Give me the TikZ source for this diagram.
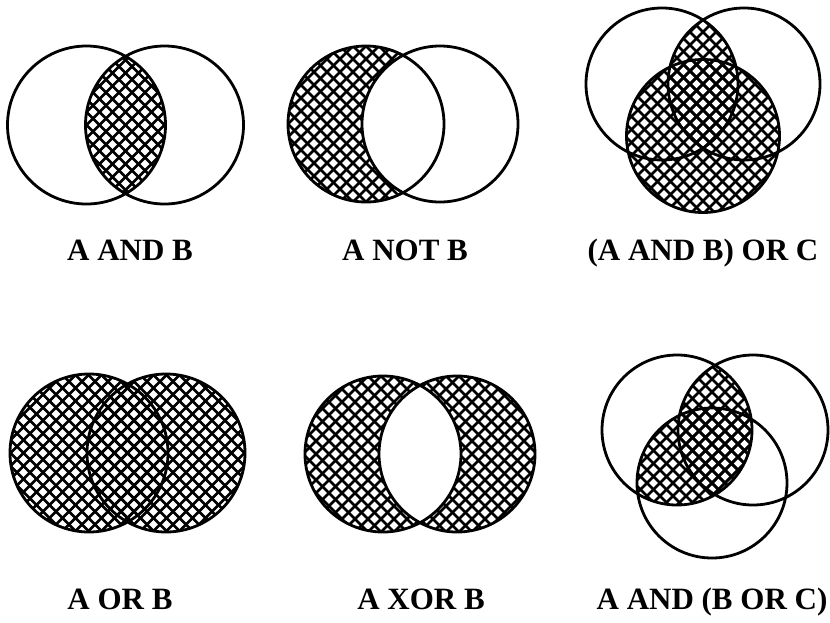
\documentclass[tikz,border=0pt]{standalone}
\usepackage{fontspec}
\setmainfont{Liberation Serif}
\tikzset{
  ring/.style={line width=2.8pt, draw=black},
  hatchline/.style={line width=2.6pt, black},
  lbl/.style={font=\fontsize{31}{36}\selectfont\bfseries, anchor=base, inner sep=0pt}
}
% hatch a square of half-size 143 around a named centre
\newcommand\hatcharound[1]{%
  \foreach \t in {-286,-273,...,286} {%
    \draw[hatchline] (#1) ++(\t-143,-143) -- ++(286,286);
    \draw[hatchline] (#1) ++(\t+143,-143) -- ++(-286,286);
  }}
\begin{document}
\begin{tikzpicture}[x=1pt,y=-1pt]
\useasboundingbox (0,0) rectangle (830,622);
\fill[white] (0,0) rectangle (830,622);

% ---------- A AND B ----------
\coordinate (a1) at (86.5,125);
\coordinate (b1) at (164.5,125);
\coordinate (m1) at (125.5,125);
\begin{scope}
  \clip (a1) circle[radius=79pt];
  \clip (b1) circle[radius=79pt];
  \hatcharound{m1}
\end{scope}
\draw[ring] (a1) circle[radius=79pt] (b1) circle[radius=79pt];
\node[lbl] (l1) at (130,260) {A AND B};

% ---------- A NOT B ----------
\coordinate (a2) at (366,124);
\coordinate (b2) at (440,124);
\begin{scope}
  \clip (a2) circle[radius=78pt];
  \hatcharound{a2}
  \fill[white] (b2) circle[radius=78pt];
\end{scope}
\draw[ring] (a2) circle[radius=78pt] (b2) circle[radius=78pt];
\node[lbl] (l2) at (405,260) {A NOT B};

% ---------- (A AND B) OR C ----------
\coordinate (a3) at (662,84);
\coordinate (b3) at (744,84);
\coordinate (c3) at (703,136);
\begin{scope}
  \clip (a3) circle[radius=76pt];
  \clip (b3) circle[radius=76pt];
  \hatcharound{c3}
\end{scope}
\begin{scope}
  \clip (c3) circle[radius=76.5pt];
  \hatcharound{c3}
\end{scope}
\draw[ring] (a3) circle[radius=76pt] (b3) circle[radius=76pt] (c3) circle[radius=76.5pt];
\node[lbl] (l3) at (703,260) {(A AND B) OR C};

% ---------- A OR B ----------
\coordinate (a4) at (89,453);
\coordinate (b4) at (166,453);
\coordinate (m4) at (127.5,453);
\begin{scope}
  \clip (a4) circle[radius=79pt];
  \hatcharound{m4}
\end{scope}
\begin{scope}
  \clip (b4) circle[radius=79pt];
  \hatcharound{m4}
\end{scope}
\draw[ring] (a4) circle[radius=79pt] (b4) circle[radius=79pt];
\node[lbl] (l4) at (120,609) {A OR B};

% ---------- A XOR B ----------
\coordinate (a5) at (383,454);
\coordinate (b5) at (457,454);
\coordinate (m5) at (420,454);
\begin{scope}
  \clip (a5) circle[radius=78pt];
  \hatcharound{m5}
\end{scope}
\begin{scope}
  \clip (b5) circle[radius=78pt];
  \hatcharound{m5}
\end{scope}
\begin{scope}
  \clip (a5) circle[radius=78pt];
  \fill[white] (b5) circle[radius=78pt];
\end{scope}
\draw[ring] (a5) circle[radius=78pt] (b5) circle[radius=78pt];
\node[lbl] (l5) at (421,609) {A XOR B};

% ---------- A AND (B OR C) ----------
\coordinate (a6) at (677,430);
\coordinate (b6) at (753,430);
\coordinate (c6) at (712,483);
\begin{scope}
  \clip (a6) circle[radius=75pt];
  \begin{scope}
    \clip (b6) circle[radius=75pt];
    \hatcharound{c6}
  \end{scope}
  \begin{scope}
    \clip (c6) circle[radius=75pt];
    \hatcharound{c6}
  \end{scope}
\end{scope}
\draw[ring] (a6) circle[radius=75pt] (b6) circle[radius=75pt] (c6) circle[radius=75pt];
\node[lbl] (l6) at (712,609) {A AND (B OR C)};
\end{tikzpicture}
\end{document}
